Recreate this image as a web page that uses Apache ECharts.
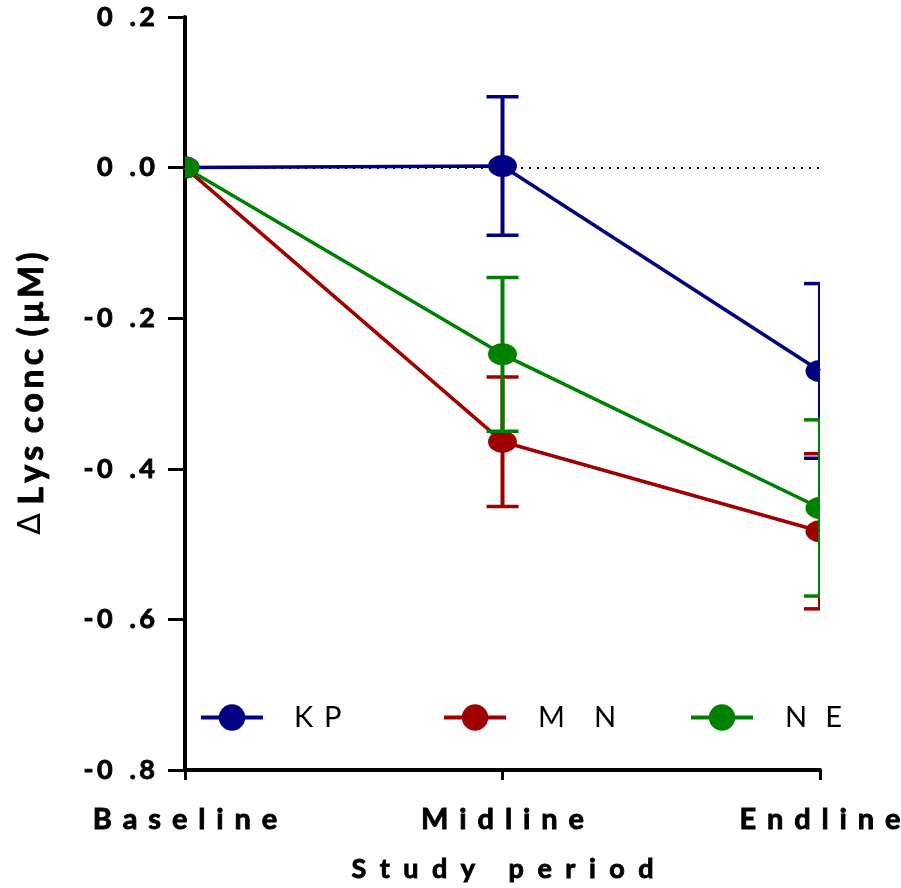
<!DOCTYPE html>
<html>
<head>
<meta charset="utf-8">
<script src="https://cdn.jsdelivr.net/npm/echarts@6/dist/echarts.min.js"></script>
<style>html,body{margin:0;padding:0;background:#fff;overflow:hidden;}#c{width:901px;height:888px;}</style>
</head>
<body>
<div id="c"></div>
<script>
const categories = ['Baseline', 'Midline', 'Endline'];
const seriesNames = ['KP', 'MN', 'NE'];
const kpMean = [0, 0.002, -0.270];
const kpErr  = [0, 0.092, 0.116];
const mnMean = [0, -0.364, -0.483];
const mnErr  = [0, 0.086, 0.103];
const neMean = [0, -0.248, -0.452];
const neErr  = [0, 0.102, 0.117];
const yMin = -0.8, yMax = 0.2, yStep = 0.2;
const colors = ['#000080', '#A00000', '#008000'];

const FONT = 'Lato';
const GAP = '\u2009\u2005';
const spaced = s => s.split('').join(GAP);
const wide = s => s.split('').join('\u2002');
const thin = s => s.split('').join('\u2009');

const means = [kpMean, mnMean, neMean];
const errs = [kpErr, mnErr, neErr];

const series = [];
seriesNames.forEach((name, si) => {
  series.push({
    name: name,
    type: 'line',
    data: means[si],
    symbol: 'circle',
    showSymbol: false,
    color: colors[si],
    lineStyle: { color: colors[si], width: 3.5 },
    itemStyle: { color: colors[si] },
    z: 2,
    markLine: si === 0 ? {
      silent: true, symbol: 'none', label: { show: false },
      lineStyle: { color: '#000', type: [2, 6], width: 2 },
      data: [{ yAxis: 0 }], z: 1
    } : undefined
  });
  series.push({
    name: name,
    type: 'custom',
    clip: true,
    z: 3,
    data: means[si].map((m, i) => [i, m, errs[si][i]]),
    renderItem: function (params, api) {
      const x = api.value(0), m = api.value(1), e = api.value(2);
      const c = api.coord([x, m]);
      const children = [];
      if (e > 0) {
        const top = api.coord([x, m + e]);
        const bot = api.coord([x, m - e]);
        const hw = 16;
        children.push({ type: 'line', shape: { x1: c[0], y1: top[1], x2: c[0], y2: bot[1] }, style: { stroke: colors[si], lineWidth: 4 } });
        children.push({ type: 'line', shape: { x1: c[0] - hw, y1: top[1], x2: c[0] + hw, y2: top[1] }, style: { stroke: colors[si], lineWidth: 3.5 } });
        children.push({ type: 'line', shape: { x1: c[0] - hw, y1: bot[1], x2: c[0] + hw, y2: bot[1] }, style: { stroke: colors[si], lineWidth: 3.5 } });
      }
      children.push({ type: 'ellipse', shape: { cx: c[0], cy: c[1], rx: 14.5, ry: 11 }, style: { fill: colors[si] } });
      return { type: 'group', children: children };
    }
  });
});

const legends = seriesNames.map((n, i) => ({
  data: [n],
  left: [199, 442, 689][i],
  top: 703,
  padding: 0,
  itemWidth: 62,
  itemHeight: 33,
  itemGap: 0,
  lineStyle: { width: 4 },
  formatter: s => s.split('').join(['\u2005\u2009', '\u2002\u2002', '\u2002\u2009'][i]),
  textStyle: { fontFamily: FONT, fontSize: 29, color: '#000', padding: [0, 0, 0, [26, 27, 27][i]] }
}));

const boldText = { fontFamily: FONT, fontWeight: 'bold', color: '#000', textBorderColor: '#000', textBorderWidth: 0.9 };

const option = {
  animation: false,
  backgroundColor: '#fff',
  grid: { left: 185, right: 81, top: 17, bottom: 118, containLabel: false, outerBoundsMode: 'none' },
  legend: legends,
  xAxis: {
    type: 'category',
    data: categories,
    boundaryGap: false,
    axisLine: { onZero: false, lineStyle: { color: '#000', width: 4 } },
    axisTick: { show: true, length: 10, alignWithLabel: true, lineStyle: { color: '#000', width: 3 } },
    axisLabel: Object.assign({ fontSize: 29, margin: 35, formatter: v => spaced(v) }, boldText),
    splitLine: { show: false },
    name: wide('Study period'),
    nameLocation: 'middle',
    nameGap: 86,
    nameTextStyle: Object.assign({ fontSize: 27 }, boldText)
  },
  yAxis: {
    type: 'value',
    min: yMin, max: yMax, interval: yStep,
    axisLine: { show: true, lineStyle: { color: '#000', width: 4 } },
    axisTick: { show: true, length: 17, lineStyle: { color: '#000', width: 3 } },
    axisLabel: Object.assign({ fontSize: 27, margin: 30,
      formatter: v => v.toFixed(1).replace('-', '-\u2009').replace('.', '\u2002\u2009.\u2009') }, boldText),
    splitLine: { show: false },
    name: '{d|\u2206}\u2009\u2009' + thin('Lys') + '\u2009 ' + thin('conc') + '\u2009 ' + thin('(\u03BCM)'),
    nameLocation: 'middle',
    nameGap: 136,
    nameTextStyle: Object.assign({ fontSize: 34,
      rich: { d: { fontFamily: 'DejaVu Sans', fontWeight: 'normal', fontSize: 32, color: '#000', textBorderWidth: 0 } } }, boldText)
  },
  series: series
};

const chart = echarts.init(document.getElementById('c'), null, { renderer: 'canvas' });
chart.setOption(option);
</script>
</body>
</html>
